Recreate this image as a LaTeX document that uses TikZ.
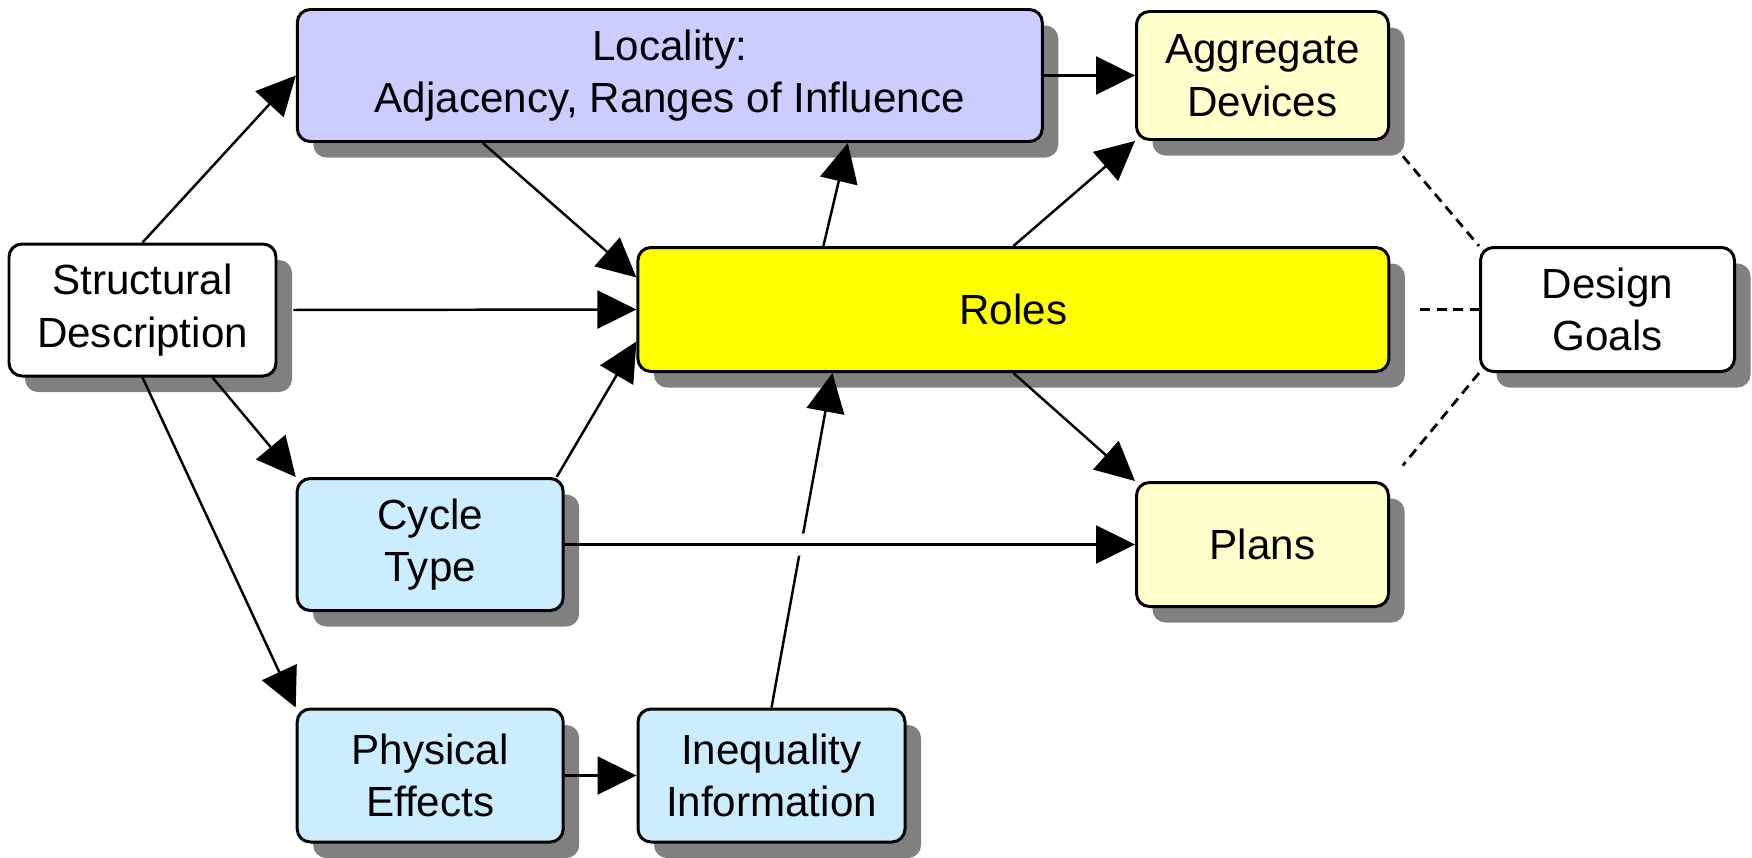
\documentclass[tikz,border=0pt]{standalone}
\usepackage{fontspec}
\setmainfont{Liberation Sans}
\usepackage{tikz}
\usetikzlibrary{positioning,arrows.meta,calc,shadows}
\definecolor{LocalityLilac}{RGB}{204,204,255}
\definecolor{ResultCream}{RGB}{255,255,204}
\definecolor{InputSky}{RGB}{204,236,255}
\definecolor{RolesYellow}{RGB}{255,255,0}
\definecolor{ShadowGray}{RGB}{128,128,128}
\tikzset{
    card/.style={draw=black,line width=0.85pt,rounded corners=0.13cm,align=center,inner sep=0pt,
        drop shadow={shadow xshift=0.16cm,shadow yshift=-0.16cm,fill=ShadowGray,opacity=1}},
    link/.style={-{Triangle[length=0.39cm,width=0.38cm]},line width=0.7pt},
    goal/.style={dash pattern=on 0.1cm off 0.065cm,line width=0.8pt},
}

\begin{document}
\begin{tikzpicture}[font=\fontsize{12}{15}\selectfont]
            \useasboundingbox (0,0) rectangle (17.52,-8.57);
            \node[card,fill=white,minimum width=2.67cm,minimum height=1.32cm] (sd) at (1.425,-3.10) {Structural\\Description};
            \node[card,fill=LocalityLilac,minimum width=7.45cm,minimum height=1.32cm] (loc) at (6.698,-0.755) {Locality:\\Adjacency, Ranges of Influence};
            \node[card,fill=ResultCream,minimum width=2.52cm,minimum height=1.28cm] (agg) at (12.625,-0.755) {Aggregate\\Devices};
            \node[card,fill=RolesYellow,minimum width=7.51cm,minimum height=1.24cm] (rol) at (10.134,-3.095) {Roles};
            \node[card,fill=white,minimum width=2.54cm,minimum height=1.24cm] (dg) at (16.075,-3.095) {Design\\Goals};
            \node[card,fill=InputSky,minimum width=2.66cm,minimum height=1.32cm] (cyc) at (4.302,-5.445) {Cycle\\Type};
            \node[card,fill=ResultCream,minimum width=2.52cm,minimum height=1.24cm] (pla) at (12.625,-5.445) {Plans};
            \node[card,fill=InputSky,minimum width=2.66cm,minimum height=1.33cm] (phy) at (4.302,-7.755) {Physical\\Effects};
            \node[card,fill=InputSky,minimum width=2.67cm,minimum height=1.33cm] (ineq) at (7.715,-7.755) {Inequality\\Information};
            \draw[link] (sd.north) -- (loc.west);
            \draw[link] ([xshift=-1.87cm]loc.south) -- ([yshift=0.32cm]rol.west);
            \draw[link,shorten <=0.16cm] (sd.east) -- (rol.west);
            \draw[link] ([xshift=0.7cm]sd.south) -- (cyc.north west);
            \draw[link] (sd.south) -- (phy.north west);
            \draw[link] ([xshift=-0.08cm]cyc.north east) -- ([yshift=-0.32cm]rol.west);
            \draw[link] (phy.east) -- (ineq.west);
            \draw[link] (ineq.north) -- ([xshift=-1.81cm]rol.south);
            \draw[white,line width=0.22cm] ($(cyc.east)!0.33!(pla.west)$) -- ($(cyc.east)!0.5!(pla.west)$);
            \draw[link] (cyc.east) -- (pla.west);
            \draw[link] ([xshift=-1.9cm]rol.north) -- ([xshift=1.78cm]loc.south);
            \draw[link] (loc.east) -- (agg.west);
            \draw[link] (rol.north) -- (agg.south west);
            \draw[link] (rol.south) -- (pla.north west);
            \draw[goal,shorten <=0.2cm] (agg.south east) -- (dg.north west);
            \draw[goal,shorten <=0.3cm] (rol.east) -- (dg.west);
            \draw[goal,shorten >=0.2cm] (dg.south west) -- (pla.north east);
        \end{tikzpicture}
\end{document}
